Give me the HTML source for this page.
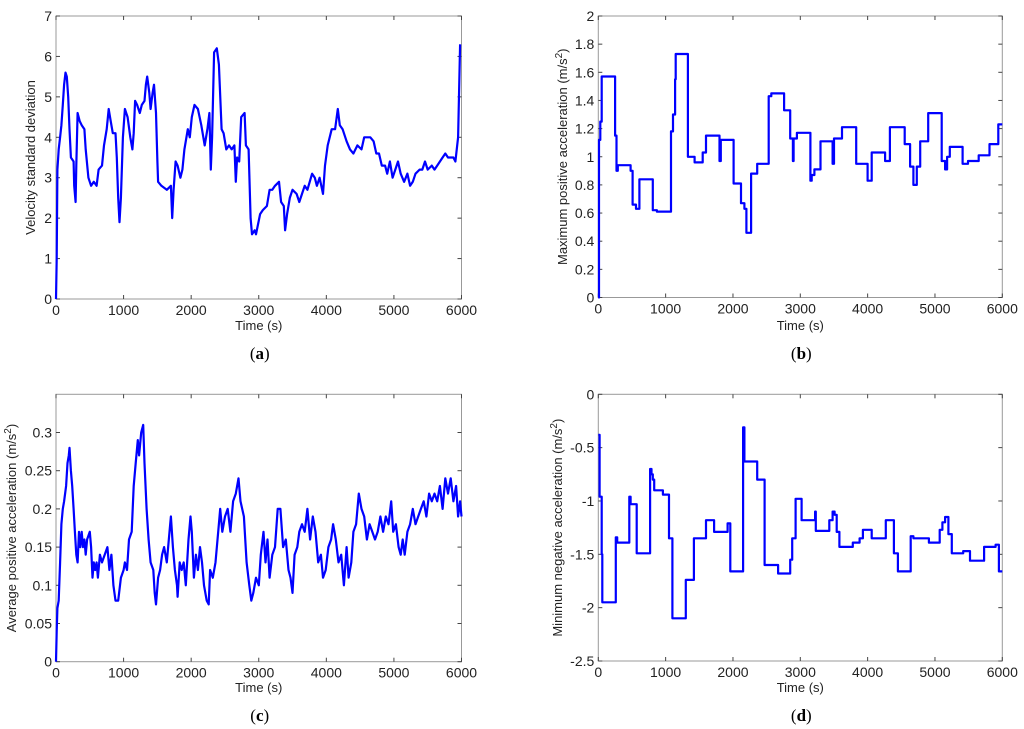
<!DOCTYPE html>
<html><head><meta charset="utf-8">
<style>
body{margin:0;background:#fff;width:1024px;height:729px;overflow:hidden}
svg{display:block}
text{font-family:"Liberation Sans",sans-serif;fill:#222}
.cap{font-family:"Liberation Serif",serif;font-size:17px;fill:#000}
</style></head>
<body>
<svg id="chart" width="1024" height="729" xmlns="http://www.w3.org/2000/svg"></svg>
<script>
// ---- data ----
const xTicks=[0,1000,2000,3000,4000,5000,6000];
const aTicks=[0,1,2,3,4,5,6,7];
const bTicks=[0,0.2,0.4,0.6,0.8,1,1.2,1.4,1.6,1.8,2];
const cTicks=[0,0.05,0.1,0.15,0.2,0.25,0.3];
const dTicks=[-2.5,-2,-1.5,-1,-0.5,0];

const aTime=[0,10,20,40,60,80,100,120,140,160,180,200,220,260,270,290,300,320,350,380,420,440,480,520,560,600,630,680,710,750,780,810,840,880,900,920,940,960,990,1020,1060,1100,1130,1150,1170,1200,1240,1270,1310,1330,1350,1380,1400,1430,1450,1480,1500,1510,1560,1640,1700,1720,1740,1770,1800,1840,1870,1900,1950,1980,2010,2050,2100,2150,2200,2240,2270,2290,2310,2340,2380,2410,2450,2480,2520,2560,2600,2640,2660,2680,2710,2740,2790,2810,2850,2880,2900,2940,2960,3020,3060,3120,3160,3200,3240,3300,3330,3370,3390,3420,3460,3500,3560,3600,3640,3680,3720,3790,3830,3860,3900,3950,3980,4020,4080,4130,4170,4200,4240,4300,4350,4400,4460,4520,4560,4650,4700,4740,4780,4820,4870,4900,4940,4980,5020,5060,5100,5150,5200,5240,5280,5320,5380,5420,5460,5500,5560,5600,5640,5720,5760,5800,5880,5910,5950,5980];
const aVal=[0,1,3.2,3.7,4,4.3,4.8,5.3,5.6,5.5,5.0,4.2,3.5,3.4,2.8,2.4,3.3,4.6,4.4,4.3,4.2,3.7,3.0,2.8,2.9,2.8,3.2,3.3,3.8,4.2,4.7,4.4,4.1,4.1,3.5,2.5,1.9,2.5,4.0,4.7,4.5,4.0,3.7,4.1,4.9,4.8,4.6,4.8,4.9,5.3,5.5,5.1,4.7,5.1,5.3,4.6,3.4,2.9,2.8,2.7,2.8,2.0,2.7,3.4,3.3,3.0,3.2,3.7,4.2,4.0,4.5,4.8,4.7,4.3,3.8,4.2,4.6,3.2,4.0,6.1,6.2,5.8,4.2,4.1,3.7,3.8,3.7,3.8,2.9,3.5,3.4,4.5,4.6,3.8,3.7,2.0,1.6,1.7,1.6,2.1,2.2,2.3,2.7,2.7,2.8,2.9,2.4,2.3,1.7,2.1,2.5,2.7,2.6,2.4,2.6,2.8,2.7,3.1,3.0,2.8,3.0,2.6,3.3,3.8,4.2,4.2,4.7,4.3,4.2,3.9,3.7,3.6,3.8,3.7,4.0,4.0,3.9,3.6,3.6,3.3,3.3,3.1,3.4,3.0,3.2,3.4,3.1,2.9,3.1,2.8,2.9,3.1,3.2,3.2,3.4,3.2,3.3,3.2,3.3,3.5,3.6,3.5,3.5,3.4,4.0,6.3];

const bTime=[0,10,30,50,250,270,290,480,510,560,610,810,870,1080,1110,1140,1150,1330,1430,1550,1600,1800,1820,2010,2120,2170,2200,2270,2360,2530,2570,2760,2850,2890,2900,2950,3150,3170,3210,3300,3480,3500,3620,3830,4000,4060,4260,4330,4550,4630,4680,4730,4780,4900,5100,5150,5180,5220,5410,5490,5650,5810,5940,6000];
const bVal=[0,1.12,1.25,1.57,1.15,0.90,0.94,0.90,0.66,0.63,0.84,0.62,0.61,1.18,1.3,1.55,1.73,1.00,0.96,1.03,1.15,0.97,1.12,0.81,0.67,0.63,0.46,0.88,0.95,1.43,1.45,1.33,1.13,0.97,1.13,1.17,0.83,0.87,0.91,1.11,0.95,1.13,1.21,0.95,0.83,1.03,0.97,1.21,1.09,0.93,0.80,0.93,1.11,1.31,0.97,0.91,1.00,1.07,0.95,0.97,1.01,1.09,1.23,1.23];

const cTime=[0,10,20,40,60,80,100,120,150,170,190,200,220,240,260,280,300,320,340,360,380,400,420,440,460,500,520,540,560,580,600,620,650,680,720,760,790,820,850,880,920,960,1000,1020,1050,1080,1120,1150,1180,1210,1230,1260,1290,1310,1340,1370,1400,1440,1460,1480,1510,1540,1570,1600,1640,1680,1700,1730,1760,1790,1800,1830,1860,1890,1920,1960,1990,2010,2040,2070,2100,2130,2160,2190,2230,2260,2280,2320,2360,2400,2430,2460,2500,2540,2580,2620,2660,2700,2730,2780,2820,2860,2890,2920,2960,3000,3030,3070,3100,3130,3160,3200,3240,3280,3320,3360,3400,3440,3470,3500,3530,3570,3600,3640,3680,3720,3760,3800,3840,3880,3920,3950,3990,4030,4070,4100,4140,4180,4220,4260,4300,4330,4370,4400,4440,4480,4520,4560,4600,4640,4680,4720,4760,4800,4840,4880,4920,4960,4990,5030,5070,5100,5130,5160,5200,5240,5280,5320,5360,5400,5440,5480,5520,5560,5600,5640,5680,5720,5760,5800,5840,5880,5920,5950,5980,6000];
const cVal=[0,0.04,0.07,0.08,0.13,0.18,0.2,0.21,0.23,0.26,0.27,0.28,0.25,0.23,0.20,0.17,0.14,0.13,0.17,0.15,0.17,0.15,0.16,0.14,0.16,0.17,0.15,0.11,0.13,0.12,0.13,0.11,0.14,0.13,0.14,0.15,0.12,0.14,0.10,0.08,0.08,0.11,0.12,0.13,0.12,0.16,0.17,0.23,0.26,0.29,0.27,0.30,0.31,0.26,0.20,0.16,0.13,0.12,0.09,0.075,0.11,0.12,0.14,0.15,0.13,0.17,0.19,0.15,0.12,0.10,0.085,0.13,0.12,0.13,0.10,0.16,0.19,0.17,0.11,0.14,0.12,0.15,0.13,0.10,0.08,0.075,0.12,0.11,0.13,0.17,0.20,0.17,0.19,0.20,0.17,0.21,0.22,0.24,0.21,0.19,0.13,0.10,0.08,0.09,0.11,0.10,0.14,0.17,0.13,0.16,0.11,0.14,0.15,0.20,0.20,0.15,0.16,0.12,0.11,0.09,0.14,0.15,0.17,0.18,0.17,0.20,0.16,0.19,0.17,0.13,0.14,0.11,0.12,0.15,0.16,0.18,0.16,0.13,0.14,0.10,0.15,0.11,0.13,0.17,0.18,0.22,0.20,0.19,0.16,0.18,0.17,0.16,0.17,0.19,0.17,0.19,0.18,0.21,0.17,0.18,0.15,0.14,0.16,0.14,0.17,0.18,0.20,0.18,0.19,0.20,0.21,0.19,0.22,0.21,0.22,0.21,0.23,0.20,0.24,0.22,0.24,0.21,0.23,0.19,0.21,0.19];

const dTime=[0,20,50,60,260,280,460,480,570,770,790,810,830,960,1050,1100,1300,1420,1600,1720,1920,1960,2150,2170,2360,2470,2670,2850,2880,2930,3020,3220,3230,3430,3480,3510,3540,3580,3780,3880,3930,4060,4270,4390,4450,4640,4680,4910,5070,5110,5150,5200,5250,5420,5520,5730,5900,5950,6000];
const dVal=[-0.38,-0.96,-1.5,-1.95,-1.34,-1.39,-0.96,-1.03,-1.49,-0.7,-0.75,-0.8,-0.9,-0.94,-1.35,-2.10,-1.74,-1.35,-1.18,-1.29,-1.21,-1.66,-0.31,-0.63,-0.80,-1.60,-1.68,-1.55,-1.35,-0.98,-1.18,-1.10,-1.28,-1.18,-1.10,-1.13,-1.29,-1.43,-1.39,-1.35,-1.27,-1.35,-1.18,-1.49,-1.66,-1.33,-1.35,-1.39,-1.27,-1.20,-1.15,-1.31,-1.49,-1.47,-1.56,-1.43,-1.41,-1.66,-1.66];

const NS='http://www.w3.org/2000/svg';
const svg=document.getElementById('chart');
function mk(tag,attrs,parent){const e=document.createElementNS(NS,tag);for(const k in attrs)e.setAttribute(k,attrs[k]);(parent||svg).appendChild(e);return e;}

function panel(id,L,R,T,B,ymin,ymax,yTicks,times,vals,step,ytitle,ytx,xtitleY,cap,capY){
  const g=mk('g',{});
  
  
  const sx=t=>L+(t-0)/(6000)*(R-L);
  const sy=v=>B-(v-ymin)/(ymax-ymin)*(B-T);
  const box=mk('rect',{x:L,y:T,width:R-L,height:B-T,fill:'none',stroke:'#999','stroke-width':1},g);
  
  
  xTicks.forEach(t=>{
    const x=sx(t);
    mk('line',{x1:x,x2:x,y1:B,y2:B-4,stroke:'#444'},g);
    mk('line',{x1:x,x2:x,y1:T,y2:T+4,stroke:'#444'},g);
    const tx=mk('text',{x:x,y:B+16,'text-anchor':'middle','font-size':14},g);
    tx.textContent=t;
    
    
  });
  yTicks.forEach(v=>{
    const y=sy(v);
    mk('line',{x1:L,x2:L+4,y1:y,y2:y,stroke:'#444'},g);
    mk('line',{x1:R,x2:R-4,y1:y,y2:y,stroke:'#444'},g);
    const tx=mk('text',{x:L-4,y:y+5,'text-anchor':'end','font-size':14},g);
    tx.textContent=v;
    
    
  });
  let d='';
  for(let i=0;i<times.length;i++){
    const x=sx(times[i]).toFixed(1),y=sy(vals[i]).toFixed(1);
    if(i===0)d='M'+x+' '+y;
    else if(step)d+=' L'+x+' '+sy(vals[i-1]).toFixed(1)+' L'+x+' '+y;
    else d+=' L'+x+' '+y;
  }
  const p=mk('path',{d:d,fill:'none',stroke:'#0000ff','stroke-width':2.2,'stroke-linejoin':'round'},g);
  
  
  const xt=mk('text',{x:(L+R)/2,y:xtitleY,'text-anchor':'middle','font-size':13},g);
  xt.textContent='Time (s)';
  
  
  const cy=(T+B)/2;
  const yt=mk('text',{x:ytx,y:cy,'text-anchor':'middle','font-size':13,transform:'rotate(-90 '+ytx+' '+cy+')'},g);
  yt.innerHTML=ytitle;
  
  
  const c=mk('text',{x:(L+R)/2+1,y:capY,'text-anchor':'middle',class:'cap'},g);
  c.innerHTML='(<tspan font-weight="bold">'+id+'</tspan>)';
  
  
}
const acc='(m/s<tspan dy="-5" font-size="10">2</tspan><tspan dy="5">)</tspan>';
panel('a',56,461.5,16,299,0,7,aTicks,aTime,aVal,false,'Velocity standard deviation',35,330,'a',359);
panel('b',598.3,1002.3,16,297.5,0,2,bTicks,bTime,bVal,true,'Maximum positive acceleration '+acc,567,330,'b',359);
panel('c',56,461.5,394.3,661.7,0,0.35,cTicks,cTime,cVal,false,'Average positive acceleration '+acc,16,692,'c',721);
panel('d',598.3,1002.3,394.3,661,-2.5,0,dTicks,dTime,dVal,true,'Minimum negative acceleration '+acc,562,692,'d',721);
</script>
</body></html>
